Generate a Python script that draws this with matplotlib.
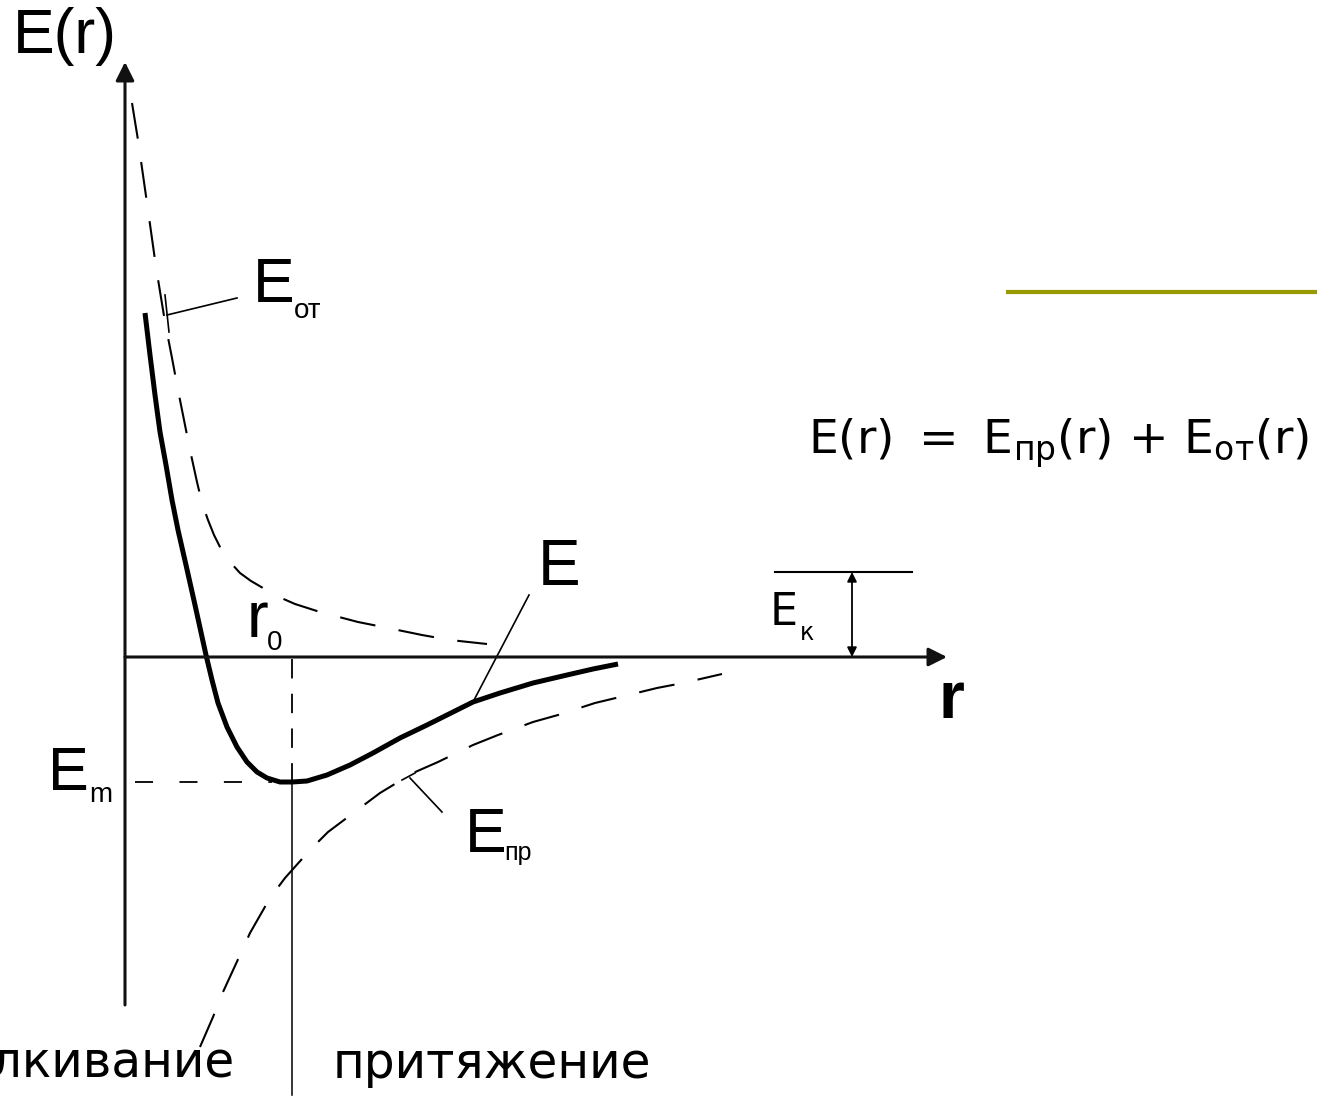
import numpy as np
import matplotlib.pyplot as plt

plt.rcParams['lines.scale_dashes'] = False

# r and E in arbitrary units, origin at the crossing of the axes
r_total = [0.20, 0.25, 0.30, 0.35, 0.41, 0.47, 0.53, 0.61, 0.70, 0.81, 0.87,
           0.93, 1.02, 1.12, 1.22, 1.32, 1.42, 1.55, 1.67, 1.82, 2.02, 2.25,
           2.48, 2.75, 3.02, 3.28, 3.48, 3.75, 4.08, 4.42, 4.68, 4.93]
E_total = [3.44, 3.02, 2.62, 2.25, 1.92, 1.57, 1.27, 0.92, 0.52, 0.02, -0.23,
           -0.46, -0.70, -0.90, -1.05, -1.15, -1.21, -1.25, -1.25, -1.24, -1.18,
           -1.08, -0.96, -0.81, -0.68, -0.55, -0.45, -0.36, -0.26, -0.18, -0.12,
           -0.07]

r_rep = [0.07, 0.13, 0.22, 0.31, 0.40, 0.47, 0.53, 0.59, 0.65, 0.72, 0.77,
         0.83, 0.89, 0.96, 1.05, 1.15, 1.26, 1.38, 1.54, 1.70, 1.95, 2.33,
         2.58, 2.97, 3.25, 3.62]
E_rep = [5.54, 5.17, 4.54, 3.90, 3.35, 2.99, 2.67, 2.37, 2.07, 1.75, 1.54,
         1.37, 1.22, 1.08, 0.95, 0.84, 0.76, 0.69, 0.60, 0.53, 0.45, 0.35,
         0.30, 0.22, 0.17, 0.13]

r_att = [0.75, 0.88, 0.98, 1.15, 1.25, 1.45, 1.60, 1.85, 2.03, 2.35, 2.55,
         2.88, 3.13, 3.48, 3.73, 4.08, 4.33, 4.70, 4.95, 5.32, 5.58, 5.97]
E_att = [-3.90, -3.60, -3.35, -2.98, -2.76, -2.41, -2.21, -1.93, -1.75, -1.51,
         -1.36, -1.16, -1.05, -0.88, -0.78, -0.65, -0.58, -0.46, -0.40, -0.31,
         -0.26, -0.17]

r0, E_min = 1.67, -1.25
E_kin = 0.85
r_kin = 7.27

fig = plt.figure(figsize=(13.17, 10.97), dpi=100)
ax = fig.add_axes([0, 0, 1, 1])
ax.set_xlim(-1.25, 11.92)
ax.set_ylim(-4.40, 6.57)
ax.axis('off')

arial = 'Liberation Sans'
verdana = 'DejaVu Sans'

# axes with arrows
ax.annotate('', xy=(0, 5.95), xytext=(0, -3.48),
            arrowprops=dict(arrowstyle='-|>', lw=2.2, color='#111111', mutation_scale=28,
                            shrinkA=0, shrinkB=0))
ax.annotate('', xy=(8.22, 0), xytext=(0, 0),
            arrowprops=dict(arrowstyle='-|>', lw=2.2, color='#111111', mutation_scale=28,
                            shrinkA=0, shrinkB=0))

# curves
ax.plot(r_total, E_total, color='black', lw=3.6, solid_capstyle='butt',
        solid_joinstyle='round')
ax.plot(r_rep, E_rep, color='black', lw=1.5, linestyle=(0, (26, 17)))
ax.plot(r_att, E_att, color='black', lw=1.5, linestyle=(0, (26, 17)))

# r0 and Em guides
ax.plot([r0, r0], [-0.02, E_min], color='black', lw=1.3, linestyle=(0, (14, 11)))
ax.plot([0.1, r0 - 0.2], [E_min, E_min], color='black', lw=1.3, linestyle=(0, (13, 19)))
ax.plot([r0, r0], [E_min, -4.38], color='black', lw=1.1)

# leader lines for labels
ax.plot([0.42, 1.12], [3.42, 3.59], color='black', lw=1.2)
ax.plot([0.40, 0.44], [3.62, 3.25], color='black', lw=1.2)
ax.plot([3.48, 4.04], [-0.45, 0.62], color='black', lw=1.2)
ax.plot([2.85, 3.17], [-1.21, -1.55], color='black', lw=1.2)
ax.plot([2.77, 2.90], [-1.23, -1.16], color='black', lw=1.2)

# kinetic energy marker
ax.plot([6.50, 7.87], [E_kin, E_kin], color='black', lw=1.5)
ax.annotate('', xy=(r_kin, E_kin), xytext=(r_kin, 0),
            arrowprops=dict(arrowstyle='<|-|>', lw=1.3, color='black', mutation_scale=14,
                            shrinkA=0, shrinkB=0))

# olive rule
ax.plot([8.81, 11.92], [3.65, 3.65], color='#999900', lw=3.0, solid_capstyle='butt')

# labels
ax.text(-1.12, 6.50, 'E(r)', family=arial, fontsize=45, va='top', ha='left')
ax.text(1.28, 3.55, 'E', family=arial, fontsize=45, va='baseline')
ax.text(1.69, 3.39, 'от', family=arial, fontsize=20, va='baseline')
ax.text(4.13, 0.72, 'E', family=arial, fontsize=46, va='baseline')
ax.text(1.22, 0.20, 'r', family=arial, fontsize=47, va='baseline')
ax.text(1.42, 0.07, '0', family=arial, fontsize=20, va='baseline')
ax.text(-0.77, -1.33, 'E', family=arial, fontsize=44, va='baseline')
ax.text(-0.36, -1.45, 'm', family=arial, fontsize=20, va='baseline')
ax.text(3.40, -1.95, 'E', family=arial, fontsize=45, va='baseline')
ax.text(3.79, -2.03, 'пр', family=arial, fontsize=18, va='baseline')
ax.text(8.13, -0.61, 'r', family=arial, fontsize=48, fontweight='bold', va='baseline')
ax.text(6.45, 0.32, 'E', family=verdana, fontsize=32, va='baseline')
ax.text(6.75, 0.17, 'к', family=verdana, fontsize=17, va='baseline')

ax.text(6.83, 2.03, r'$\mathregular{E(r)\ {=}\ E_{пр}(r)\ {+}\ E_{от}(r)}$',
        family=verdana, fontsize=34, va='baseline')

ax.text(1.10, -4.21, 'отталкивание', family=verdana, fontsize=35, ha='right', va='baseline')
ax.text(2.08, -4.21, 'притяжение', family=verdana, fontsize=35, ha='left', va='baseline')

fig.savefig('out.png', dpi=100, facecolor='white')
